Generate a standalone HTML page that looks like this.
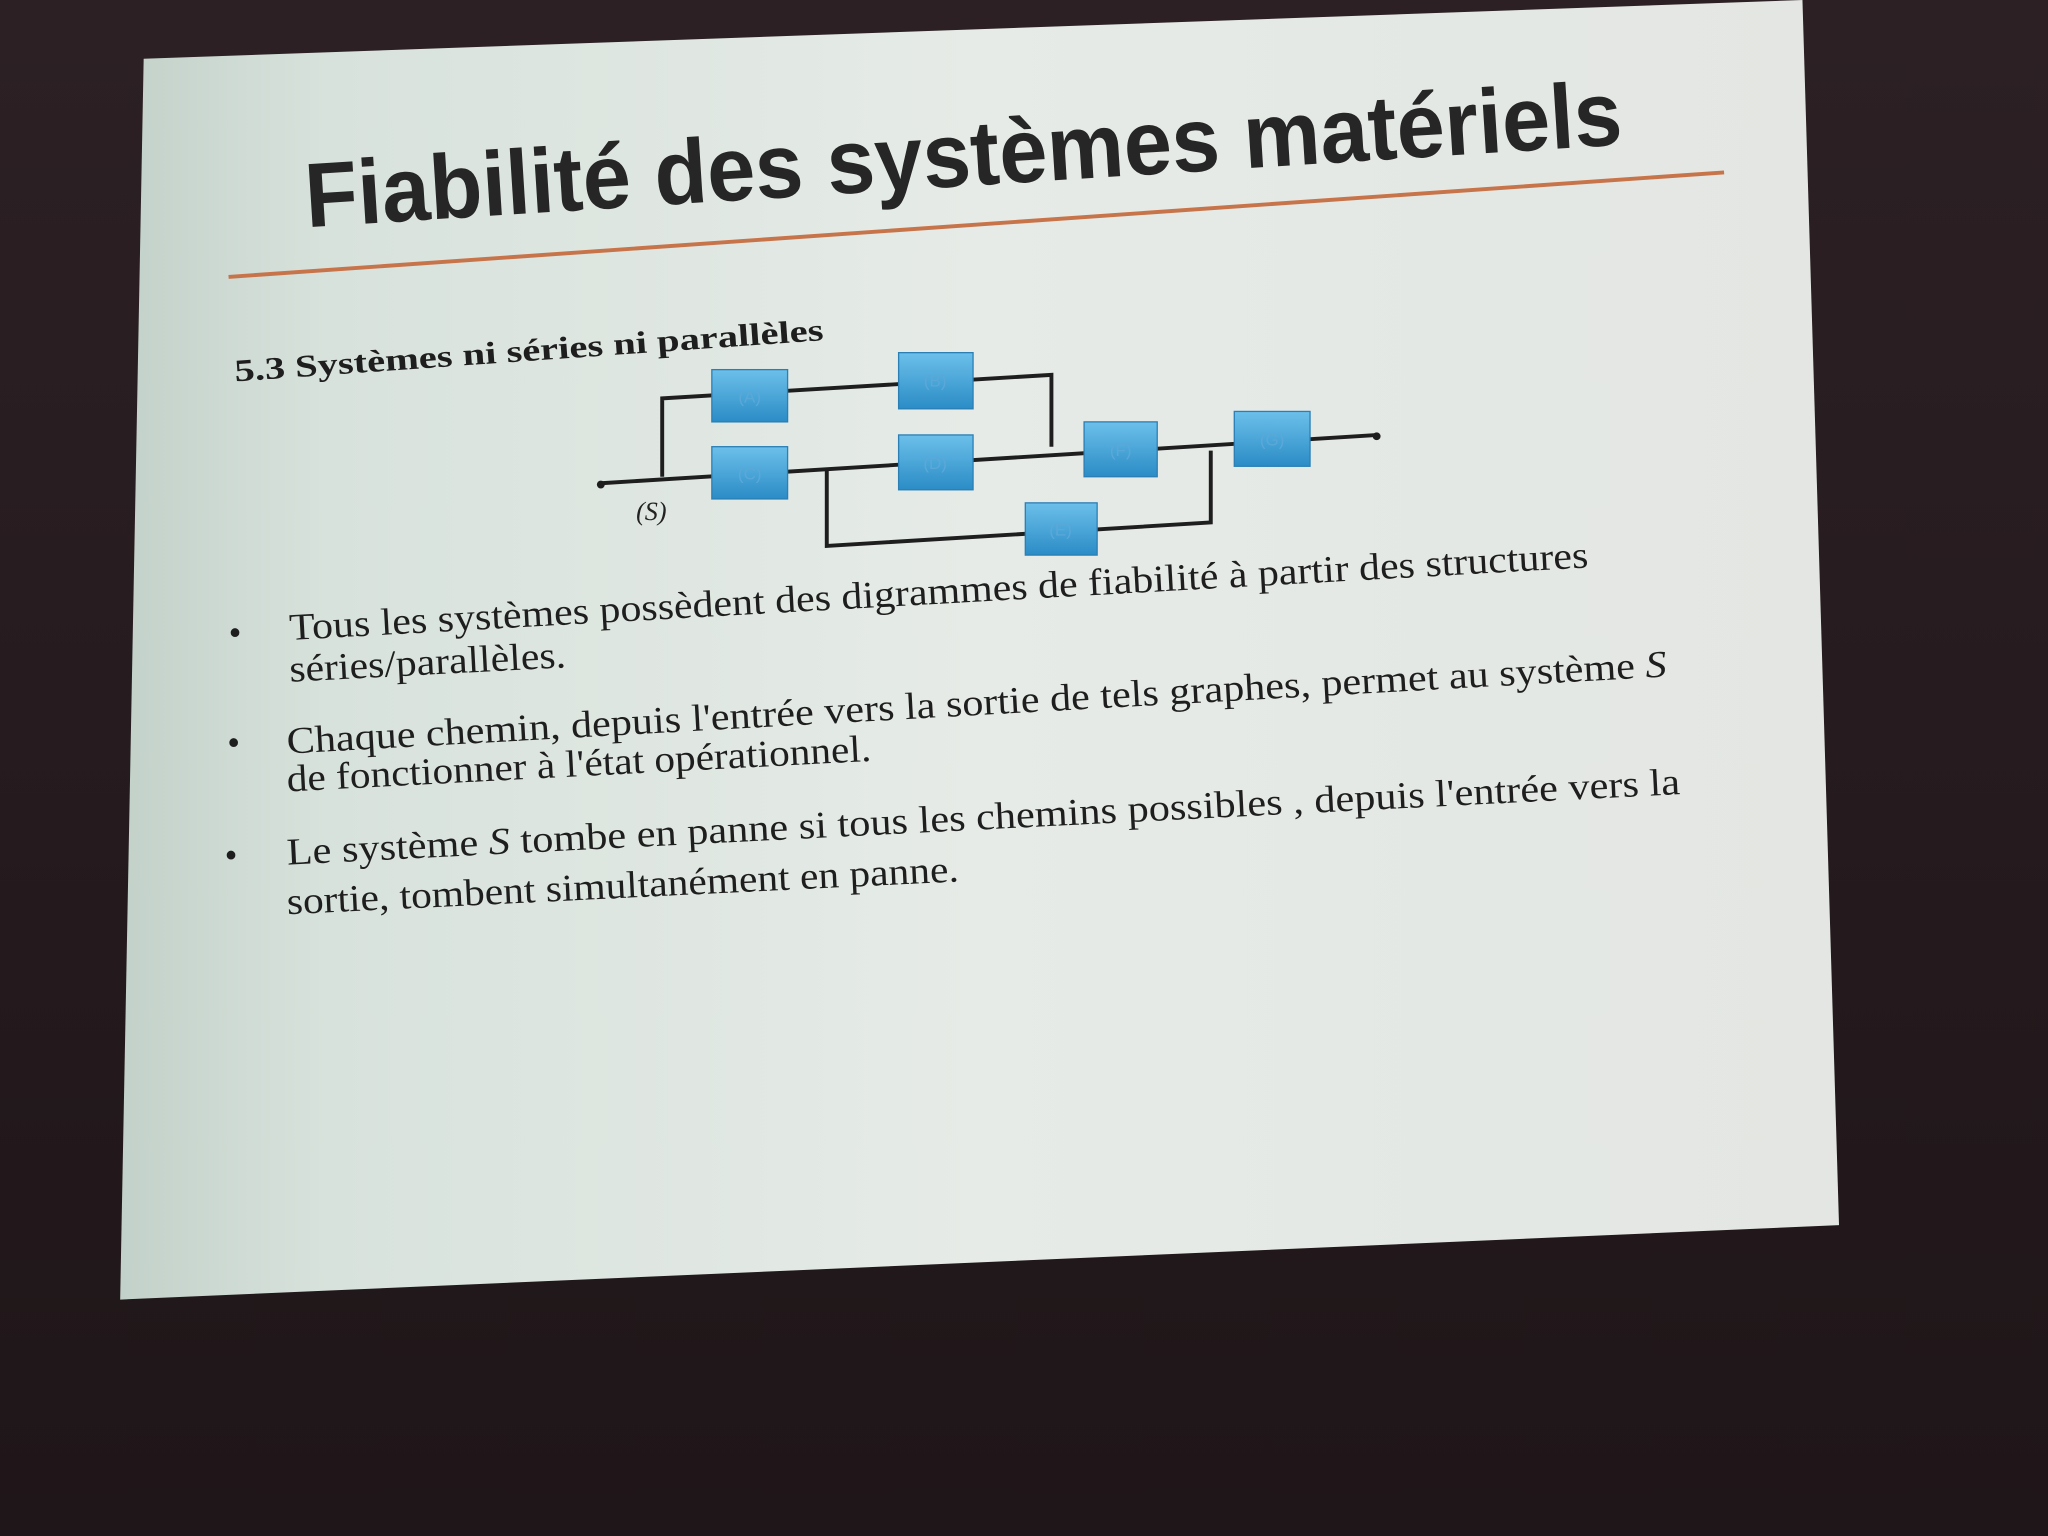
<!DOCTYPE html>
<html><head><meta charset="utf-8"><style>
html,body{margin:0;padding:0;background:#2a1f23;}
svg{display:block;}
</style></head><body>
<svg width="2048" height="1536" viewBox="0 0 1568 1176" xmlns="http://www.w3.org/2000/svg">
<defs>
<linearGradient id="sl" x1="0" y1="0" x2="1" y2="0">
<stop offset="0" stop-color="#c2d1c9"/>
<stop offset="0.12" stop-color="#d8e2dc"/>
<stop offset="0.5" stop-color="#e6ebe7"/>
<stop offset="1" stop-color="#e3e6e2"/>
</linearGradient>
<linearGradient id="bx" x1="0" y1="0" x2="0" y2="1">
<stop offset="0" stop-color="#6cc0ea"/>
<stop offset="1" stop-color="#2b8cc6"/>
</linearGradient>
<linearGradient id="bg" x1="0" y1="0" x2="0" y2="1">
<stop offset="0" stop-color="#2c2024"/>
<stop offset="1" stop-color="#1f1619"/>
</linearGradient>
</defs>
<rect width="1568" height="1176" fill="url(#bg)"/>
<polygon points="110,45 1380,0 1408,938 92,995" fill="url(#sl)"/>
<text x="235" y="174" font-family="Liberation Sans, sans-serif" font-weight="bold" font-size="70" fill="#262626" textLength="1010" lengthAdjust="spacingAndGlyphs" transform="rotate(-3.6 235 174)">Fiabilité des systèmes matériels</text>
<line x1="175" y1="212" x2="1320" y2="132" stroke="#c8744a" stroke-width="3"/>
<text x="180" y="292" font-family="Liberation Serif, serif" font-weight="bold" font-size="24" fill="#1e1e1e" textLength="452" lengthAdjust="spacingAndGlyphs" transform="rotate(-4 180 292)">5.3 Systèmes ni séries ni parallèles</text>
<g stroke="#1e1e1e" stroke-width="3" fill="none">
<line x1="460" y1="370" x2="1055" y2="333"/>
<polyline points="507,365 507,305 805,287 805,342"/>
<polyline points="633,360 633,418 927,400 927,345"/>
</g>
<circle cx="460" cy="371" r="3" fill="#1e1e1e"/>
<circle cx="1054" cy="334" r="3" fill="#1e1e1e"/>
<g fill="url(#bx)" stroke="#2a7fb5" stroke-width="1">
<rect x="545" y="283" width="58" height="40"/>
<rect x="688" y="270" width="57" height="43"/>
<rect x="545" y="342" width="58" height="40"/>
<rect x="688" y="333" width="57" height="42"/>
<rect x="785" y="385" width="55" height="40"/>
<rect x="830" y="323" width="56" height="42"/>
<rect x="945" y="315" width="58" height="42"/>
</g>
<g font-family="Liberation Sans, sans-serif" font-size="13" fill="#5aa8d8" text-anchor="middle">
<text x="574" y="308">(A)</text><text x="716" y="296">(B)</text><text x="574" y="367">(C)</text>
<text x="716" y="359">(D)</text><text x="812" y="410">(E)</text><text x="858" y="349">(F)</text><text x="974" y="341">(G)</text>
</g>
<text x="487" y="398" font-family="Liberation Serif, serif" font-style="italic" font-size="20" fill="#222">(S)</text>
<g font-family="Liberation Serif, serif" font-size="29" fill="#1e1e1e">
<text x="175" y="494" font-size="28">•</text>
<text x="174" y="578" font-size="28">•</text>
<text x="172" y="664" font-size="28">•</text>
<text x="222" y="490" textLength="996" lengthAdjust="spacingAndGlyphs" transform="rotate(-3.2 222 490)">Tous les systèmes possèdent des digrammes de fiabilité à partir des structures</text>
<text x="222" y="522" textLength="212" lengthAdjust="spacingAndGlyphs" transform="rotate(-3 222 522)">séries/parallèles.</text>
<text x="220" y="577" textLength="1058" lengthAdjust="spacingAndGlyphs" transform="rotate(-3.2 220 577)">Chaque chemin, depuis l'entrée vers la sortie de tels graphes, permet au système <tspan font-style="italic">S</tspan></text>
<text x="220" y="606" textLength="448" lengthAdjust="spacingAndGlyphs" transform="rotate(-3 220 606)">de fonctionner à l'état opérationnel.</text>
<text x="220" y="662" textLength="1068" lengthAdjust="spacingAndGlyphs" transform="rotate(-2.9 220 662)">Le système <tspan font-style="italic">S</tspan> tombe en panne si tous les chemins possibles , depuis l'entrée vers la</text>
<text x="220" y="700" textLength="515" lengthAdjust="spacingAndGlyphs" transform="rotate(-2.8 220 700)">sortie, tombent simultanément en panne.</text>
</g>
</svg>
</body></html>
